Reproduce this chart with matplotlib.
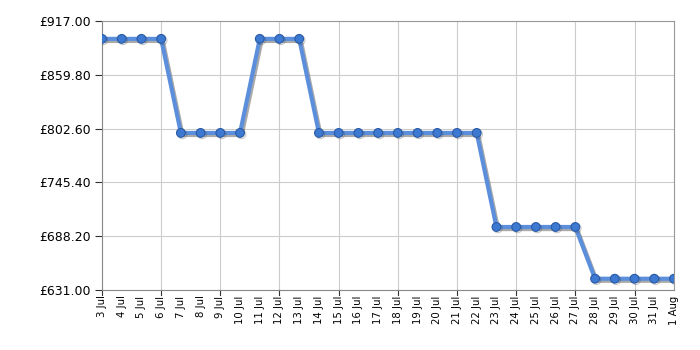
import matplotlib
matplotlib.use("Agg")
import matplotlib.pyplot as plt
import matplotlib.patheffects as pe
from matplotlib.ticker import FixedLocator

dates = [f"{d} Jul" for d in range(3, 32)] + ["1 Aug"]
prices = (
    [898.0] * 4
    + [798.0] * 4
    + [898.0] * 3
    + [798.0] * 9
    + [698.0] * 5
    + [643.0] * 5
)
y_ticks = [631.0, 688.2, 745.4, 802.6, 859.8, 917.0]

fig = plt.figure(figsize=(7, 3.5), dpi=100)
ax = fig.add_axes([0.1457, 0.1714, 0.8171, 0.7686])

x = list(range(len(dates)))
# line with soft shadow
ax.plot(
    x, prices,
    color="#5b8edb", linewidth=3, zorder=3,
    path_effects=[
        pe.SimpleLineShadow(offset=(1.2, -1.5), shadow_color="#444444", alpha=0.45),
        pe.Normal(),
    ],
)
# markers
ax.plot(
    x, prices, linestyle="none", zorder=4,
    marker="o", markersize=6.3,
    markerfacecolor="#3d79d0", markeredgecolor="#2a5aa6", markeredgewidth=0.8,
    path_effects=[
        pe.SimpleLineShadow(offset=(1, -1), shadow_color="#444444", alpha=0.3),
        pe.Normal(),
    ],
)

ax.set_xlim(0, len(dates) - 1)
ax.set_ylim(y_ticks[0], y_ticks[-1])
ax.set_yticks(y_ticks)
ax.set_yticklabels([f"£{v:.2f}" for v in y_ticks], fontsize=9)

ax.set_xticks(x)
ax.set_xticklabels(dates, rotation=90, fontsize=7.3)
ax.xaxis.set_major_locator(FixedLocator(x))
ax.tick_params(axis="x", length=0, pad=4)
ax.tick_params(axis="y", length=5, color="#333333", pad=3)

# grid and tick marks every third day
grid_x = x[::3]
for gx in grid_x:
    ax.axvline(gx, color="#cccccc", linewidth=0.8, zorder=0)
    ax.plot([gx, gx], [0, -0.02], color="#333333", linewidth=0.8,
            transform=ax.get_xaxis_transform(), clip_on=False)
for gy in y_ticks:
    ax.axhline(gy, color="#cccccc", linewidth=0.8, zorder=0)

for s in ax.spines.values():
    s.set_color("#999999")
    s.set_linewidth(0.8)
ax.spines["left"].set_color("#888888")
ax.spines["bottom"].set_color("#888888")

fig.savefig("out.png", dpi=100)
